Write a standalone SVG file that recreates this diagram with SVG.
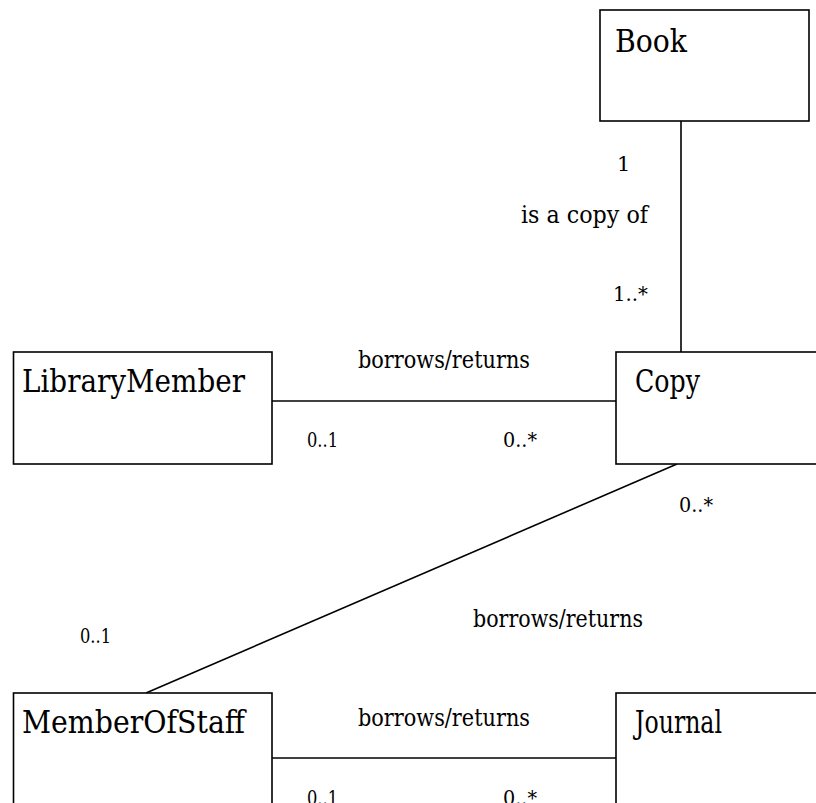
<svg xmlns="http://www.w3.org/2000/svg" width="816" height="803" viewBox="0 0 816 803">
<style>
.box{fill:#fff;stroke:#000;stroke-width:1.6}
.ln{fill:none;stroke:#000;stroke-width:1.6}
text{fill:#000}
.name{font-size:31px}
.lbl{font-size:24px}
.mul{font-size:21px}
</style>
<rect width="816" height="803" fill="#fff"/>
<g id="connectors" font-family="DejaVu Serif, Liberation Serif, serif">
<line class="ln" x1="681" y1="121" x2="681" y2="352"/>
<line class="ln" x1="272" y1="401" x2="616" y2="401"/>
<line class="ln" x1="677" y1="464" x2="146" y2="693"/>
<line class="ln" x1="272" y1="758" x2="616" y2="758"/>
<text class="mul" x="617" y="171">1</text>
<text class="lbl" x="521" y="223" textLength="127" lengthAdjust="spacingAndGlyphs">is a copy of</text>
<text class="mul" x="613" y="301" textLength="35" lengthAdjust="spacingAndGlyphs">1..*</text>
<text class="lbl" x="358" y="368" textLength="172" lengthAdjust="spacingAndGlyphs">borrows/returns</text>
<text class="mul" x="307" y="447" textLength="31" lengthAdjust="spacingAndGlyphs">0..1</text>
<text class="mul" x="503" y="447" textLength="34" lengthAdjust="spacingAndGlyphs">0..*</text>
<text class="mul" x="679" y="512" textLength="34" lengthAdjust="spacingAndGlyphs">0..*</text>
<text class="mul" x="80" y="643" textLength="31" lengthAdjust="spacingAndGlyphs">0..1</text>
<text class="lbl" x="473" y="627" textLength="170" lengthAdjust="spacingAndGlyphs">borrows/returns</text>
<text class="lbl" x="358" y="726" textLength="172" lengthAdjust="spacingAndGlyphs">borrows/returns</text>
<text class="mul" x="307" y="805" textLength="31" lengthAdjust="spacingAndGlyphs">0..1</text>
<text class="mul" x="503" y="805" textLength="34" lengthAdjust="spacingAndGlyphs">0..*</text>
</g>
<g id="book" font-family="DejaVu Serif, Liberation Serif, serif">
<rect class="box" x="600" y="10" width="209" height="111"/>
<text class="name" x="615" y="52" textLength="72" lengthAdjust="spacingAndGlyphs">Book</text>
</g>
<g id="librarymember" font-family="DejaVu Serif, Liberation Serif, serif">
<rect class="box" x="13.5" y="352" width="258.5" height="112"/>
<text class="name" x="22" y="392" textLength="223" lengthAdjust="spacingAndGlyphs">LibraryMember</text>
</g>
<g id="copy" font-family="DejaVu Serif, Liberation Serif, serif">
<rect class="box" x="616" y="352" width="220" height="112"/>
<text class="name" x="635" y="392" textLength="65" lengthAdjust="spacingAndGlyphs">Copy</text>
</g>
<g id="memberofstaff" font-family="DejaVu Serif, Liberation Serif, serif">
<rect class="box" x="13.5" y="693" width="258.5" height="130"/>
<text class="name" x="22" y="733" textLength="223" lengthAdjust="spacingAndGlyphs">MemberOfStaff</text>
</g>
<g id="journal" font-family="DejaVu Serif, Liberation Serif, serif">
<rect class="box" x="616" y="693" width="220" height="130"/>
<text class="name" x="635" y="733" textLength="87" lengthAdjust="spacingAndGlyphs">Journal</text>
</g>
</svg>
